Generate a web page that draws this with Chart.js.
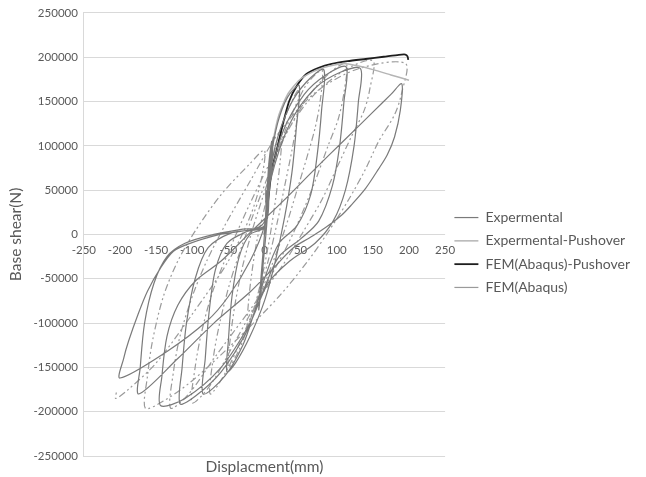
<!DOCTYPE html>
<html>
<head>
<meta charset="utf-8">
<script src="https://cdn.jsdelivr.net/npm/chart.js@4.4.0/dist/chart.umd.min.js"></script>
<style>
  body { margin: 0; background: #fff; }
  #wrap { width: 646px; height: 477px; }
</style>
</head>
<body>
<div id="wrap"><canvas id="c"></canvas></div>
<script>
// Expermental (cyclic test)
const expX = [0,3,6,10,7,3,-2,-5,-8,-5,-1,2,
  8,18,32,48,44,38,28,15,0,-20,-40,-52,-50,-45,-35,-20,0,
  5,15,35,58,82,79,73,64,45,20,0,-15,-30,-55,-85,-82,-77,-68,-52,-25,0,
  6,25,55,85,113,110,104,94,75,50,20,0,-25,-60,-95,-117,-114,-108,-96,-78,-45,0,
  8,35,70,105,133,130,124,112,95,70,35,5,-20,-60,-110,-144,
  -142,-135,-120,-95,-60,-20,25,70,110,150,175,190,
  188,180,170,158,140,120,107,85,62,40,10,-20,-70,-120,-174,-172,-166,-153,-135,-110,-70,-30,0,
  5,12,8,0,-20,-50,-80,-135,-200,-195,-188,-175,-162,-144,-126,-103,-62,-3,2];
const expY = [0,40000,80000,105000,60000,10000,-35000,-65000,-85000,-50000,-10000,20000,
  80000,125000,155000,168000,120000,70000,20000,-30000,-75000,-115000,-145000,-155000,-120000,-70000,-25000,0,8000,
  50000,100000,145000,172000,186000,140000,90000,45000,10000,-10000,-50000,-90000,-125000,-160000,-180000,-140000,-90000,-40000,-10000,3000,9000,
  55000,115000,158000,180000,189000,150000,100000,55000,15000,-5000,-25000,-60000,-110000,-155000,-182000,-191000,-150000,-100000,-50000,-15000,2000,10000,
  60000,125000,165000,183000,187000,150000,100000,50000,15000,-10000,-30000,-55000,-100000,-150000,-185000,-193000,
  -160000,-115000,-80000,-52000,-30000,2000,37000,74000,106000,138000,158000,170000,
  140000,110000,90000,74000,52000,33000,22000,8000,-4000,-15000,-40000,-65000,-100000,-140000,-180000,-150000,-100000,-55000,-25000,-10000,0,6000,10000,
  60000,110000,60000,10000,-30000,-70000,-98000,-132000,-162000,-140000,-120000,-90000,-64000,-38000,-19000,-10000,0,11000,50000];

// Expermental-Pushover
const expPushX = [0,3,7,12,20,32,48,68,90,110,130,150,175,200];
const expPushY = [0,30000,70000,105000,135000,158000,174000,184000,190000,193000,190000,186000,180000,174000];

// FEM(Abaqus)-Pushover
const femPushX = [0,4,8,12,16.5,24,34,45,58,75,93,115,140,165,186,195,198,199];
const femPushY = [0,30000,60000,80000,93500,120000,150000,168000,181000,188000,192500,195500,198000,200500,202700,203000,201000,197000];

// FEM(Abaqus) cyclic
const femX = [0,4,10,18,24,
  22,17,10,0,-10,-18,-24,
  -22,-17,-10,0,15,30,42,48,
  45,38,28,18,5,-15,-35,-50,
  -47,-40,-30,-15,5,30,55,70,80,
  77,70,58,45,30,10,-20,-50,-75,
  -71,-62,-48,-30,-5,25,60,90,113,
  110,102,88,70,50,30,0,-40,-75,-100,
  -96,-87,-72,-50,-20,20,60,110,150,
  146,138,120,100,80,55,25,-20,-70,-105,-130,
  -126,-117,-100,-80,-55,-20,20,70,130,195,
  190,180,158,140,117,90,60,20,-40,-100,-140,-165,
  -162,-155,-140,-120,-95,-60,-20,0,
  -5,-20,-50,-100,-150,-190,-206,-204];
const femY = [0,40000,80000,105000,115000,
  85000,50000,10000,-35000,-70000,-92000,-105000,
  -75000,-40000,-5000,30000,90000,135000,157000,164000,
  130000,95000,55000,15000,-30000,-85000,-130000,-150000,
  -115000,-75000,-35000,10000,60000,120000,165000,180000,185000,
  150000,120000,85000,50000,10000,-35000,-95000,-150000,-180000,
  -140000,-100000,-55000,-10000,45000,105000,155000,182000,193000,
  160000,130000,100000,60000,20000,-15000,-60000,-120000,-170000,-190000,
  -150000,-110000,-65000,-20000,35000,100000,150000,185000,196000,
  165000,140000,110000,75000,40000,5000,-35000,-85000,-140000,-180000,-196000,
  -155000,-115000,-70000,-30000,10000,60000,115000,160000,187000,193000,
  160000,135000,105000,74000,40000,5000,-30000,-70000,-120000,-165000,-188000,-196000,
  -160000,-120000,-70000,-30000,5000,45000,80000,95000,
  60000,20000,-30000,-90000,-145000,-176000,-185000,-175000];

const xTicks = [-250,-200,-150,-100,-50,0,50,100,150,200,250];
const yTicks = [-250000,-200000,-150000,-100000,-50000,0,50000,100000,150000,200000,250000];

function pts(xs, ys) { return xs.map((x, i) => ({ x: x, y: ys[i] })); }

const txt = '#595959';
const font = 'Lato, "Liberation Sans", sans-serif';

new Chart(document.getElementById('c'), {
  type: 'scatter',
  data: {
    datasets: [
      { label: 'Expermental', data: pts(expX, expY), showLine: true, borderColor: '#7a7a7a', borderWidth: 1.2, pointRadius: 0, tension: 0.3 },
      { label: 'Expermental-Pushover', data: pts(expPushX, expPushY), showLine: true, borderColor: '#b5b5b5', borderWidth: 1.5, pointRadius: 0, tension: 0.2 },
      { label: 'FEM(Abaqus)-Pushover', data: pts(femPushX, femPushY), showLine: true, borderColor: '#1e1e1e', borderWidth: 1.8, pointRadius: 0, tension: 0.2 },
      { label: 'FEM(Abaqus)', data: pts(femX, femY), showLine: true, borderColor: '#9a9a9a', borderWidth: 1.2, borderDash: [7, 3, 2, 3, 2, 3], pointRadius: 0, tension: 0.3 }
    ]
  },
  options: {
    responsive: true,
    maintainAspectRatio: false,
    animation: false,
    layout: { padding: { left: 5, top: 0, right: 6, bottom: 0 } },
    plugins: {
      tooltip: { enabled: false },
      legend: {
        position: 'right',
        maxWidth: 200,
        title: { display: true, text: ' ', padding: { top: 0, bottom: 16 }, font: { size: 10 } },
        labels: {
          usePointStyle: true,
          pointStyle: 'line',
          pointStyleWidth: 24,
          color: txt,
          padding: 9.3,
          font: { family: font, size: 14 }
        }
      }
    },
    scales: {
      x: {
        type: 'linear',
        min: -250, max: 250,
        position: { y: 0 },
        afterBuildTicks: s => { s.ticks = xTicks.map(v => ({ value: v })); },
        grid: { display: false },
        border: { display: false },
        ticks: { color: txt, padding: 1, font: { family: font, size: 11.5 }, maxRotation: 0 }
      },
      x2: {
        type: 'linear',
        min: -250, max: 250,
        position: 'bottom',
        afterFit: s => { s.height = 21; },
        grid: { display: false },
        border: { display: false },
        ticks: { display: false },
        title: { display: true, text: 'Displacment(mm)', color: txt, font: { family: font, size: 15.5 }, padding: { top: 1, bottom: 1 } }
      },
      y: {
        type: 'linear',
        min: -250000, max: 250000,
        afterBuildTicks: s => { s.ticks = yTicks.map(v => ({ value: v })); },
        grid: { color: '#d9d9d9', drawTicks: false },
        border: { display: true, color: '#d9d9d9' },
        ticks: { color: txt, padding: 6, font: { family: font, size: 11.5 }, callback: v => String(v) },
        title: { display: true, text: 'Base shear(N)', color: txt, font: { family: font, size: 15.5 }, padding: { top: 2, bottom: 2 } }
      }
    }
  }
});
</script>
</body>
</html>
